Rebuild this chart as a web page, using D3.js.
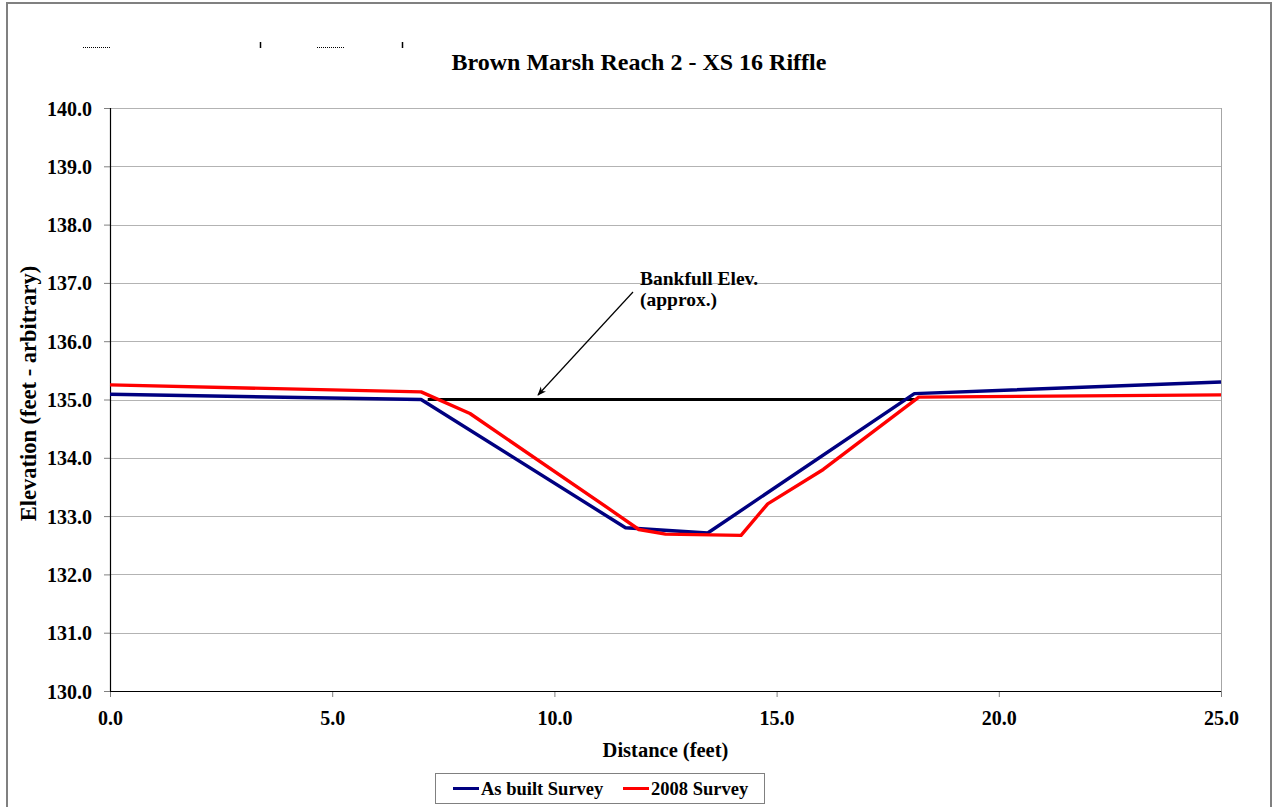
<!DOCTYPE html>
<html><head><meta charset="utf-8">
<script src="https://cdn.jsdelivr.net/npm/d3@7"></script>
<style>
html,body{margin:0;padding:0;background:#fff;}
svg text{font-family:"Liberation Serif","Times New Roman",serif;font-weight:bold;fill:#000;}
</style></head>
<body>
<svg id="c" width="1272" height="807"></svg>
<script>
const titleText = "Brown Marsh Reach 2 - XS 16 Riffle";
const xTicks = [0, 5, 10, 15, 20, 25];
const yTicks = [130, 131, 132, 133, 134, 135, 136, 137, 138, 139, 140];
const asBuiltX = [0, 7.0, 11.6, 13.45, 18.1, 25];
const asBuiltY = [135.09, 135.0, 132.8, 132.71, 135.1, 135.3];
const survey2008X = [0, 7.0, 8.1, 11.2, 11.9, 12.5, 14.2, 14.8, 16.05, 18.2, 25];
const survey2008Y = [135.25, 135.13, 134.76, 133.14, 132.77, 132.69, 132.67, 133.21, 133.8, 135.04, 135.08];
const bankfullX = [7.15, 18.15];
const bankfullY = [135.0, 135.0];
const seriesNames = ["As built Survey", "2008 Survey"];
const seriesColors = ["#000080", "#ff0000"];

const svg = d3.select("#c");
const m = {l:110, r:1221, t:108, b:691};
const x = d3.scaleLinear().domain([0,25]).range([m.l, m.r]);
const y = d3.scaleLinear().domain([130,140]).range([m.b, m.t]);

// outer frame
svg.append("path").attr("d","M7,807 L7,3 L1271,3 L1271,807").attr("fill","none").attr("stroke","#808080").attr("stroke-width",2);

// small artifacts at top
const art = svg.append("g").attr("stroke","#000");
[[83,111],[317,345]].forEach(d=>art.append("line").attr("x1",d[0]).attr("x2",d[1]).attr("y1",47.5).attr("y2",47.5).attr("stroke-dasharray","1,1").attr("stroke-width",1));
[260,402].forEach(d=>art.append("line").attr("x1",d+0.5).attr("x2",d+0.5).attr("y1",42).attr("y2",48).attr("stroke-width",1.5));

// title
svg.append("text").attr("x",639).attr("y",70).attr("text-anchor","middle").style("font-size","24px").text(titleText);

// grid
svg.append("g").selectAll("line").data(yTicks.filter(d=>d>130)).join("line")
  .attr("x1",m.l).attr("x2",m.r).attr("y1",d=>Math.round(y(d))+0.5).attr("y2",d=>Math.round(y(d))+0.5)
  .attr("stroke","#b3b3b3").attr("stroke-width",1);
svg.append("line").attr("x1",m.r+0.5).attr("x2",m.r+0.5).attr("y1",m.t).attr("y2",m.b).attr("stroke","#a6a6a6");

// y axis
const ya = svg.append("g").attr("transform",`translate(${m.l},0)`)
  .call(d3.axisLeft(y).tickValues(yTicks).tickFormat(d3.format(".1f")).tickSize(6).tickPadding(12));
ya.select(".domain").remove();
ya.selectAll(".tick line").attr("stroke","#808080");
ya.selectAll(".tick text").style("font-size","20px").attr("dy","0.35em");
svg.append("line").attr("x1",m.l+0.5).attr("x2",m.l+0.5).attr("y1",m.t).attr("y2",m.b).attr("stroke","#000").attr("stroke-width",1.2);

// x axis
const xa = svg.append("g").attr("transform",`translate(0,${m.b})`)
  .call(d3.axisBottom(x).tickValues(xTicks).tickFormat(d3.format(".1f")).tickSize(6).tickPadding(14));
xa.select(".domain").remove();
xa.selectAll(".tick line").attr("stroke","#808080");
xa.selectAll(".tick text").style("font-size","20px");
svg.append("line").attr("x1",m.l).attr("x2",m.r).attr("y1",m.b+0.5).attr("y2",m.b+0.5).attr("stroke","#000").attr("stroke-width",1.2);

// axis titles
svg.append("text").attr("x",(m.l+m.r)/2).attr("y",757).attr("text-anchor","middle").style("font-size","20.5px").text("Distance (feet)");
svg.append("text").attr("transform",`translate(36,393.5) rotate(-90)`).attr("text-anchor","middle").style("font-size","22.5px").text("Elevation (feet - arbitrary)");

// series
const line = d3.line().x(d=>x(d[0])).y(d=>y(d[1]));
svg.append("path").datum(bankfullX.map((d,i)=>[d,bankfullY[i]])).attr("d",line).attr("fill","none").attr("stroke","#000").attr("stroke-width",3);
svg.append("path").datum(asBuiltX.map((d,i)=>[d,asBuiltY[i]])).attr("d",line).attr("fill","none").attr("stroke",seriesColors[0]).attr("stroke-width",3.4).attr("stroke-linejoin","round");
svg.append("path").datum(survey2008X.map((d,i)=>[d,survey2008Y[i]])).attr("d",line).attr("fill","none").attr("stroke",seriesColors[1]).attr("stroke-width",3.4).attr("stroke-linejoin","round");

// annotation
svg.append("defs").append("marker").attr("id","ah").attr("viewBox","0 0 10 10").attr("refX",9).attr("refY",5)
  .attr("markerWidth",9).attr("markerHeight",9).attr("markerUnits","userSpaceOnUse").attr("orient","auto")
  .append("path").attr("d","M0,1 L10,5 L0,9 L3,5 Z").attr("fill","#000");
svg.append("line").attr("x1",633).attr("y1",292).attr("x2",538).attr("y2",395).attr("stroke","#000").attr("stroke-width",1.2).attr("marker-end","url(#ah)");
svg.append("text").attr("x",640).attr("y",285).style("font-size","19.5px").text("Bankfull Elev.");
svg.append("text").attr("x",640).attr("y",306).style("font-size","19.5px").text("(approx.)");

// legend
const lg = svg.append("g");
lg.append("rect").attr("x",435.5).attr("y",773.5).attr("width",329).attr("height",30).attr("fill","#fff").attr("stroke","#808080");
const lx = [453, 623], tx = [481, 651];
seriesNames.forEach((n,i)=>{
  lg.append("line").attr("x1",lx[i]).attr("x2",lx[i]+26).attr("y1",788.5).attr("y2",788.5).attr("stroke",seriesColors[i]).attr("stroke-width",3);
  lg.append("text").attr("x",tx[i]).attr("y",795).style("font-size","18.5px").text(n);
});
</script>
</body></html>
